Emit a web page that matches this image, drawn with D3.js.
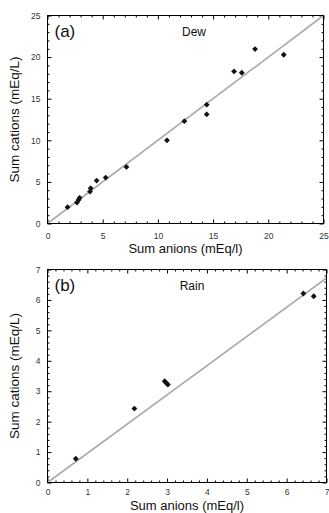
<!DOCTYPE html>
<html><head><meta charset="utf-8">
<script src="https://cdn.jsdelivr.net/npm/d3@7"></script>
<style>body{margin:0;background:#fff}svg{display:block;font-family:"Liberation Sans",Arial,sans-serif}</style>
</head><body><svg id="c" width="329" height="513"></svg>
<script>
// Panel (a) Dew
const dewAnions  = [1.82, 2.67, 2.82, 2.91, 3.85, 3.91, 4.45, 5.27, 7.15, 10.82, 12.4, 14.42, 14.42, 16.9, 17.6, 18.8, 21.4];
const dewCations = [1.96, 2.52, 2.84, 3.08, 3.84, 4.24, 5.16, 5.52, 6.8, 10.0, 12.3, 14.28, 13.12, 18.28, 18.12, 20.96, 20.28];
const dewLine = [[0,0],[25,25]];
const dewTicks = [0,5,10,15,20,25];
// Panel (b) Rain
const rainAnions  = [0.71, 2.18, 2.94, 2.98, 3.02, 6.42, 6.68];
const rainCations = [0.78, 2.43, 3.33, 3.27, 3.22, 6.21, 6.12];
const rainLine = [[0,0],[7,6.72]];
const rainTicks = [0,1,2,3,4,5,6,7];

const svg = d3.select("#c");

function panel(o){
  const g = svg.append("g");
  const x = d3.scaleLinear().domain(o.dom).range([o.x0,o.x1]);
  const y = d3.scaleLinear().domain(o.dom).range([o.y1,o.y0]);
  const minor = d3.range(o.dom[0], o.dom[1]+1e-9, o.minor).filter(v=>!o.ticks.some(t=>Math.abs(t-v)<1e-9));
  const axes = [
    [d3.axisBottom(x).tickValues(o.ticks), o.y1, 0, true],
    [d3.axisTop(x).tickValues(o.ticks), o.y0, 0, false],
    [d3.axisLeft(y).tickValues(o.ticks), 0, o.x0, true],
    [d3.axisRight(y).tickValues(o.ticks), 0, o.x1, false]
  ];
  axes.forEach(([ax,ty,tx,lab])=>{
    const a = g.append("g").attr("transform",`translate(${tx},${ty})`)
      .call(ax.tickSizeInner(-4).tickSizeOuter(0).tickPadding(lab?(ty? o.xPad:7):0).tickFormat(lab?d3.format("d"):""));
    a.select(".domain").remove();
    a.selectAll("line").attr("stroke","#000");
    a.selectAll("text").attr("font-size",8.5).attr("fill","#333");
  });
  const minAxes = [
    [d3.axisBottom(x), o.y1, 0],[d3.axisTop(x), o.y0, 0],
    [d3.axisLeft(y), 0, o.x0],[d3.axisRight(y), 0, o.x1]
  ];
  minAxes.forEach(([ax,ty,tx])=>{
    const a = g.append("g").attr("transform",`translate(${tx},${ty})`)
      .call(ax.tickValues(minor).tickSizeInner(-2).tickSizeOuter(0).tickFormat(""));
    a.select(".domain").remove();
    a.selectAll("line").attr("stroke","#000");
  });
  g.append("path").datum(o.line)
    .attr("d", d3.line().x(d=>x(d[0])).y(d=>y(d[1])))
    .attr("stroke","#aaa").attr("stroke-width",1.6).attr("fill","none");
  const sym = d3.symbol().type(d3.symbolSquare).size(17);
  g.selectAll("path.pt").data(o.xs).join("path").attr("class","pt")
    .attr("d",sym).attr("fill","#111")
    .attr("transform",(d,i)=>`translate(${x(d)},${y(o.ys[i])}) rotate(45)`);
  g.append("rect").attr("x",o.x0).attr("y",o.y0).attr("width",o.x1-o.x0).attr("height",o.y1-o.y0)
    .attr("fill","none").attr("stroke","#000").attr("stroke-width",1);
  g.append("text").attr("x",o.x0+7).attr("y",o.y0+21).attr("font-size",17).attr("fill","#111").text(o.tag);
  g.append("text").attr("x",o.titleX).attr("y",o.y0+20).attr("font-size",12).attr("text-anchor","middle").attr("fill","#111").text(o.title);
  g.append("text").attr("x",(o.x0+o.x1)/2).attr("y",o.y1+o.xtDy).attr("font-size",13).attr("text-anchor","middle").attr("fill","#111").text("Sum anions (mEq/l)");
  g.append("text").attr("transform",`translate(19,${(o.y0+o.y1)/2}) rotate(-90)`).attr("font-size",13.5).attr("text-anchor","middle").attr("fill","#111").text("Sum cations (mEq/L)");
}

panel({dom:[0,25], ticks:dewTicks, minor:1, x0:47.5, x1:323.5, y0:15.5, y1:223.5, line:dewLine, xs:dewAnions, ys:dewCations, tag:"(a)", title:"Dew", titleX:194, xtDy:29, xPad:9});
panel({dom:[0,7], ticks:rainTicks, minor:0.2, x0:47.5, x1:326.5, y0:269.5, y1:482.5, line:rainLine, xs:rainAnions, ys:rainCations, tag:"(b)", title:"Rain", titleX:192, xtDy:27.5, xPad:6});
</script></body></html>
